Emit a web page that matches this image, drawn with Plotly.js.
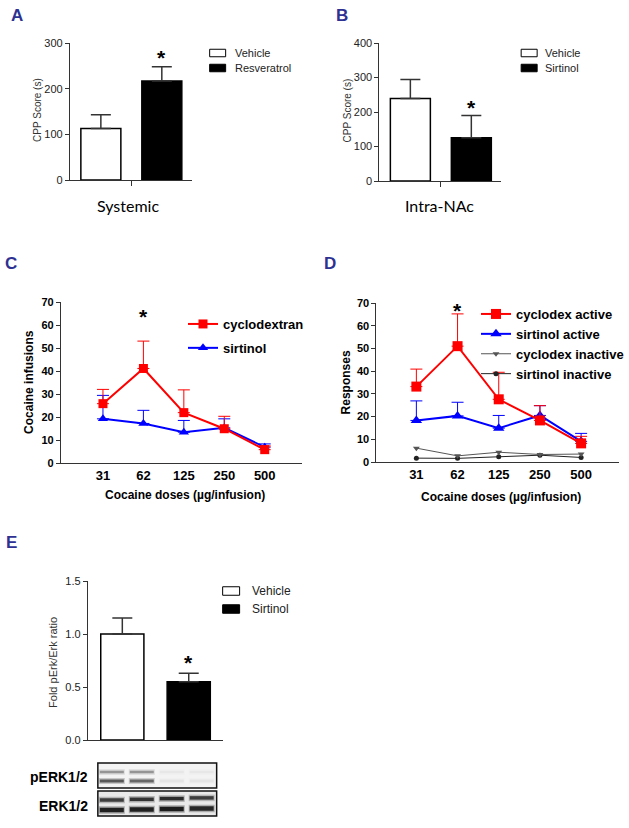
<!DOCTYPE html>
<html><head><meta charset="utf-8">
<script src="https://cdn.plot.ly/plotly-3.0.1.min.js"></script>
<style>html,body{margin:0;padding:0;background:#fff}#chart{width:629px;height:828px}</style>
</head><body><div id="chart"></div>
<script>
// ---- Panel A ----
const groupsA = ['Vehicle', 'Resveratrol'];
const cppA = [113, 217];
const cppAErr = [30, 31];
// ---- Panel B ----
const groupsB = ['Vehicle', 'Sirtinol'];
const cppB = [239, 125];
const cppBErr = [55, 65];
// ---- Panel C ----
const doses = ['31', '62', '125', '250', '500'];
const cycloInf = [25.8, 41.1, 21.9, 14.9, 5.8];
const cycloInfErr = [6.2, 11.9, 9.9, 5.4, 1.6];
const sirtInf = [19.2, 17.2, 13.4, 15.3, 6.9];
const sirtInfErr = [10.2, 5.7, 5.1, 3.9, 1.4];
// ---- Panel D ----
const cycloAct = [33.2, 51.0, 27.6, 18.3, 8.2];
const cycloActErr = [7.7, 14.2, 11.9, 6.5, 3.1];
const sirtAct = [18.3, 20.3, 14.9, 20.5, 9.1];
const sirtActErr = [8.6, 6.0, 5.6, 4.3, 3.5];
const cycloInact = [6.1, 2.7, 4.3, 3.3, 3.5];
const sirtInact = [1.7, 1.6, 2.3, 3.0, 2.0];
// ---- Panel E ----
const groupsE = ['Vehicle', 'Sirtinol'];
const foldE = [1.00, 0.55];
const foldEErr = [0.15, 0.08];
// ---- Western blot band intensities (4 lanes) ----
const pErkUpper = [0.35, 0.35, 0.04, 0.04];
const pErkLower = [0.62, 0.55, 0.05, 0.05];
const erkUpper = [0.75, 0.8, 0.85, 0.75];
const erkLower = [0.92, 0.92, 0.95, 0.88];

const W = 629, H = 828;
const px = x => x / W;
const py = y => 1 - y / H;
const AR = 'Liberation Sans, Arial, sans-serif';
const idx = a => a.map((_, i) => i);
const zeros = a => a.map(() => 0);
const BLUE_L = '#2e3192';

function barTrace(vals, errs, xa, ya) {
  return {
    type: 'bar', x: idx(vals), y: vals, xaxis: xa, yaxis: ya, width: 0.656,
    marker: {color: ['#ffffff', '#000000'], line: {color: '#000', width: 1.5}},
    error_y: {type: 'data', symmetric: false, array: errs, arrayminus: zeros(errs),
      color: '#333', thickness: 1.5, width: 10},
    showlegend: false, hoverinfo: 'skip'
  };
}
function lineTrace(vals, errs, color, symbol, size, name, xa, ya, leg, rank, lw) {
  const t = {
    type: 'scatter', mode: 'lines+markers', x: idx(vals), y: vals, xaxis: xa, yaxis: ya,
    name: name, line: {color: color, width: lw}, marker: {color: color, symbol: symbol, size: size},
    legend: leg, legendrank: rank, legendgroup: name, cliponaxis: false, hoverinfo: 'skip'
  };
  if (errs) t.error_y = {type: 'data', symmetric: false, array: errs, arrayminus: zeros(errs),
    color: color, thickness: 1, width: 6};
  return t;
}

const data = [
  barTrace(cppA, cppAErr, 'x', 'y'),
  barTrace(cppB, cppBErr, 'x2', 'y2'),
  lineTrace(sirtInf, sirtInfErr, '#0000ff', 'triangle-up', 9, 'sirtinol', 'x3', 'y3', 'legend', 2, 2),
  lineTrace(cycloInf, cycloInfErr, '#ff0000', 'square', 9, 'cyclodextran', 'x3', 'y3', 'legend', 1, 2),
  lineTrace(sirtInact, null, '#222222', 'circle', 5, 'sirtinol inactive', 'x4', 'y4', 'legend2', 4, 1),
  lineTrace(cycloInact, null, '#555555', 'triangle-down', 6, 'cyclodex inactive', 'x4', 'y4', 'legend2', 3, 1),
  lineTrace(sirtAct, sirtActErr, '#0000ff', 'triangle-up', 10, 'sirtinol active', 'x4', 'y4', 'legend2', 2, 2),
  lineTrace(cycloAct, cycloActErr, '#ff0000', 'square', 10, 'cyclodex active', 'x4', 'y4', 'legend2', 1, 2),
  Object.assign(barTrace(foldE, foldEErr, 'x5', 'y5'), {width: 0.65})
];

const baseY = (dom, range, dtick, anchor, font, fmt) => ({
  domain: dom, range: range, dtick: dtick, tick0: 0, anchor: anchor, showline: true,
  linecolor: '#333', linewidth: 1, ticks: 'outside', ticklen: 4, tickcolor: '#333',
  showgrid: false, zeroline: false, tickfont: font, tickformat: fmt || '', fixedrange: true
});
const regFont = {family: AR, size: 11, color: '#222'};
const boldY = {family: AR, size: 11, color: '#000', weight: 700};
const boldX = {family: AR, size: 13, color: '#000', weight: 700};

const barX = (dom, range, anchor, centerTick) => ({
  domain: dom, range: range, anchor: anchor, showline: true, linecolor: '#333', linewidth: 1,
  showgrid: false, zeroline: false, showticklabels: false,
  tickmode: 'array', tickvals: centerTick ? [0.5] : [], ticks: centerTick ? 'outside' : '',
  ticklen: 5, tickcolor: '#333', fixedrange: true
});
const catX = (dom, range, anchor) => ({
  domain: dom, range: range, anchor: anchor, showline: true, linecolor: '#333', linewidth: 1,
  showgrid: false, zeroline: false, tickmode: 'array', tickvals: idx(doses), ticktext: doses,
  ticks: '', tickfont: boldX, fixedrange: true
});

const ann = [];
function txt(x, y, text, font, opts) {
  ann.push(Object.assign({xref: 'paper', yref: 'paper', x: px(x), y: py(y), text: text,
    showarrow: false, font: font, xanchor: 'center', yanchor: 'middle'}, opts || {}));
}
const letterFont = {family: AR, size: 17, color: BLUE_L, weight: 700};
txt(17, 16, 'A', letterFont);
txt(343, 16, 'B', letterFont);
txt(11, 263, 'C', letterFont);
txt(331, 263, 'D', letterFont);
txt(12, 542, 'E', letterFont);
// axis titles
txt(37, 110, 'CPP Score (s)', {family: AR, size: 10, color: '#333'}, {textangle: -90});
txt(348, 110, 'CPP Score (s)', {family: AR, size: 10, color: '#333'}, {textangle: -90});
txt(29, 382, 'Cocaine infusions', {family: AR, size: 12, color: '#000', weight: 700}, {textangle: -90});
txt(185, 495, 'Cocaine doses (µg/infusion)', {family: AR, size: 12, color: '#000', weight: 700});
txt(347, 382, 'Responses', {family: AR, size: 12, color: '#000', weight: 700}, {textangle: -90});
txt(502, 497, 'Cocaine doses (µg/infusion)', {family: AR, size: 12, color: '#000', weight: 700});
txt(53, 662, 'Fold pErk/Erk ratio', {family: AR, size: 11, color: '#333'}, {textangle: -90});
// group labels
txt(128, 205, 'Systemic', {family: 'Lato, Carlito, sans-serif', size: 16, color: '#000'});
txt(440, 205, 'Intra-NAc', {family: 'Lato, Carlito, sans-serif', size: 16, color: '#000'});
// blot labels
txt(90, 777, 'pERK1/2', {family: AR, size: 14, color: '#000', weight: 700}, {xanchor: 'right'});
txt(90, 806, 'ERK1/2', {family: AR, size: 14, color: '#000', weight: 700}, {xanchor: 'right'});
// asterisks (data coords)
const starFont = {family: AR, size: 21, color: '#000', weight: 700};
[['x', 'y', 1, 268], ['x2', 'y2', 1, 212], ['x3', 'y3', 1, 63.8], ['x4', 'y4', 1, 66.8], ['x5', 'y5', 1, 0.73]]
  .forEach(s => ann.push({xref: s[0], yref: s[1], x: s[2], y: s[3], text: '*', showarrow: false,
    font: starFont, xanchor: 'center', yanchor: 'middle'}));

// manual legends for bar panels
const shapes = [];
function swatch(x0, x1, yc, h, fill) {
  shapes.push({type: 'rect', xref: 'paper', yref: 'paper', x0: px(x0), x1: px(x1),
    y0: py(yc + h / 2), y1: py(yc - h / 2), fillcolor: fill, line: {color: '#000', width: 1}});
}
const legFont11 = {family: AR, size: 11, color: '#222'};
const legFont12 = {family: AR, size: 12, color: '#222'};
groupsA.forEach((g, i) => { swatch(210, 226, 53 + 15 * i, 7.5, i ? '#000' : '#fff');
  txt(233, 53 + 15 * i, g, legFont11, {xanchor: 'left'}); });
groupsB.forEach((g, i) => { swatch(522, 538, 53 + 15 * i, 7.5, i ? '#000' : '#fff');
  txt(544, 53 + 15 * i, g, legFont11, {xanchor: 'left'}); });
groupsE.forEach((g, i) => { swatch(223, 240, 591 + 18 * i, 8.5, i ? '#000' : '#fff');
  txt(250, 591 + 18 * i, g, legFont12, {xanchor: 'left'}); });

// western blot
function blotFrame(y0, y1, fill) {
  shapes.push({type: 'rect', xref: 'paper', yref: 'paper', x0: px(98), x1: px(217),
    y0: py(y1), y1: py(y0), fillcolor: fill, line: {color: '#111', width: 1.5}});
}
blotFrame(763, 788, '#f3f3f3');
blotFrame(791, 816, '#e9e9e9');
function bands(arr, yc, h, tilt) {
  arr.forEach((v, i) => {
    const cx = 112 + 30 * i;
    const dy = (tilt || 0) * i;
    shapes.push({type: 'rect', xref: 'paper', yref: 'paper', x0: px(cx - 13), x1: px(cx + 13),
      y0: py(yc + dy + h / 2 + 1.5), y1: py(yc + dy - h / 2 - 1.5), fillcolor: `rgba(40,40,40,${(v * 0.35).toFixed(3)})`,
      line: {width: 0}});
    shapes.push({type: 'rect', xref: 'paper', yref: 'paper', x0: px(cx - 12), x1: px(cx + 12),
      y0: py(yc + dy + h / 2), y1: py(yc + dy - h / 2), fillcolor: `rgba(20,20,20,${v.toFixed(3)})`,
      line: {width: 0}});
  });
}
bands(pErkUpper, 772, 2.5, 0);
bands(pErkLower, 781, 3, 0);
bands(erkUpper, 800, 3.5, -0.7);
bands(erkLower, 810, 4.5, -0.5);

const legBase = {xanchor: 'left', yanchor: 'top', bgcolor: 'rgba(0,0,0,0)',
  font: {family: AR, size: 13, color: '#000', weight: 700}, traceorder: 'grouped', itemclick: false};

const layout = {
  width: W, height: H, margin: {l: 0, r: 0, t: 0, b: 0}, paper_bgcolor: '#fff', plot_bgcolor: 'rgba(0,0,0,0)',
  font: {family: AR}, showlegend: true, bargap: 0,
  xaxis: barX([px(70), px(192)], [-0.508, 1.49], 'y', true),
  yaxis: baseY([py(180), py(43)], [0, 300], 100, 'x', regFont),
  xaxis2: barX([px(380), px(502)], [-0.508, 1.49], 'y2', true),
  yaxis2: baseY([py(181), py(43)], [0, 400], 100, 'x2', regFont),
  xaxis3: catX([px(61), px(302)], [-1.04, 4.91], 'y3'),
  yaxis3: baseY([py(463), py(302)], [0, 70], 10, 'x3', boldY),
  xaxis4: catX([px(377), px(620)], [-0.97, 4.92], 'y4'),
  yaxis4: baseY([py(462), py(303)], [0, 70], 10, 'x4', boldY),
  xaxis5: barX([px(88), px(223)], [-0.519, 1.511], 'y5', false),
  yaxis5: baseY([py(740), py(581)], [0, 1.5], 0.5, 'x5', regFont, '.1f'),
  legend: Object.assign({}, legBase, {x: px(183), y: py(309), tracegroupgap: 4}),
  legend2: Object.assign({}, legBase, {x: px(477), y: py(299), tracegroupgap: 0}),
  annotations: ann, shapes: shapes
};

Plotly.newPlot('chart', data, layout, {staticPlot: true, displayModeBar: false});
</script>
</body></html>
